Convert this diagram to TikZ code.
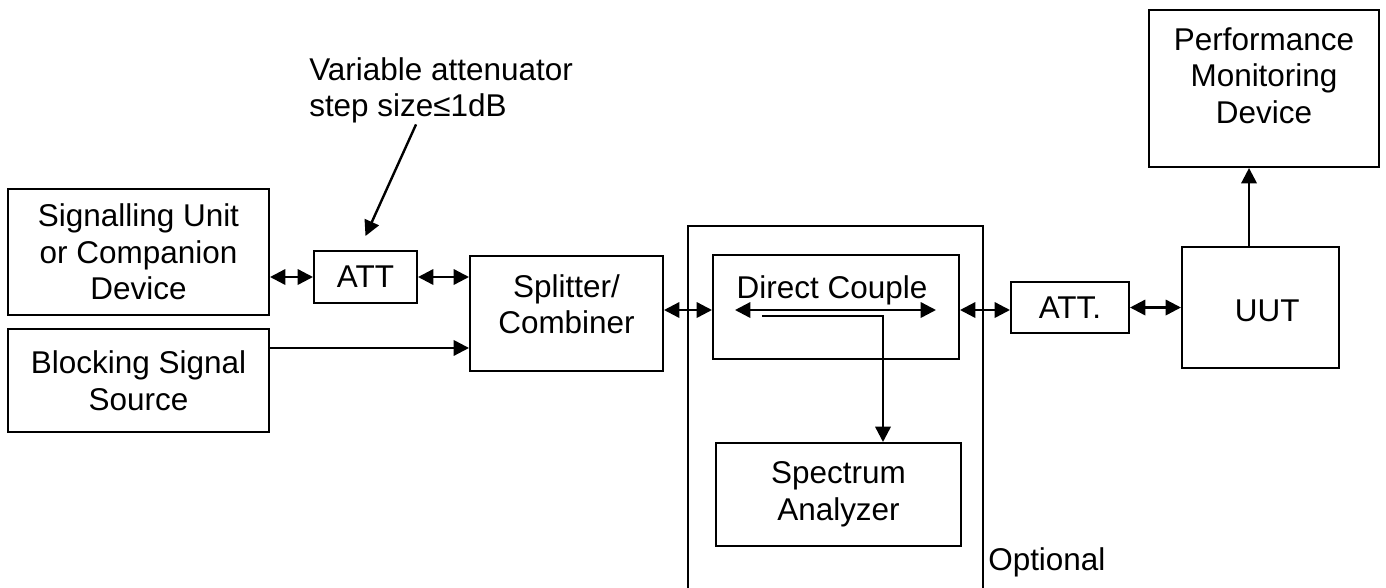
\documentclass[tikz,border=0pt]{standalone}
\usepackage{fontspec}
\setmainfont{Liberation Sans}
\usetikzlibrary{arrows.meta}

\tikzset{
  blk/.style={draw, line width=1.5pt, inner sep=0pt, align=center},
  sz/.style 2 args={minimum width=#1*0.75pt, minimum height=#2*0.75pt},
  con/.style={line width=1.8pt},
}

\begin{document}
\begin{tikzpicture}[x=0.75pt,y=0.75pt,yscale=-1,xscale=1, >={Triangle[length=11.5pt,width=11.5pt]}, font=\fontsize{23.6}{27.4}\selectfont]
    \useasboundingbox (0,0) rectangle (1386,587); %picture is 1386 wide, 587 high
    
    %Shape: Rectangle (sources)
    \node [blk, sz={261}{126}] (sig) at (138.5,252) {Signalling Unit\\or Companion\\Device};
    \node [blk, sz={261}{103}] (bss) at (138.5,380.5) {Blocking Signal\\Source};
    %Shape: Rectangle (attenuators)
    \node [blk, sz={103}{52}] (att) at (365.5,277) {ATT};
    \node [blk, sz={118}{51}] (att2) at (1070,307.5) {ATT.};
    %Shape: Rectangle
    \node [blk, sz={193}{115}, text depth=14pt] (spl) at (566.5,313.5) {Splitter/\\Combiner};
    %Shape: Optional frame, open at the bottom
    \draw [line width=1.5pt] (688,592) -- (688,226) -- (983,226) -- (983,592);
    %Shape: Rectangle (inside the frame)
    \node [blk, sz={246}{104}] (dc) at (836,307) {};
    \node [blk, sz={245}{103}] (spa) at (838.5,494.5) {Spectrum\\Analyzer};
    %Shape: Rectangle (device side)
    \node [blk, sz={157}{121}, text height=21pt] (uut) at (1260.5,307.5) {\hspace{10pt}UUT};
    \node [blk, sz={230}{157}, text depth=20pt] (pmd) at (1264,88.5) {Performance\\Monitoring\\Device};
    
    % Text Node
    \node [anchor=base, inner sep=0.75pt] (dctxt) at (832,298) {Direct Couple};
    % Text Node
    \node [anchor=north west, inner sep=0.75pt, align=left] (note) at (308,56) {Variable attenuator\\step size≤1dB};
    % Text Node
    \node [anchor=north west, inner sep=0.75pt] (opt) at (987,546) {Optional};
    
    %Straight Lines (yshift runs downwards here, as yscale=-1)
    \coordinate (dcl) at (735,310);
    \coordinate (dcr) at (936,310);
    \coordinate (tap) at (762,316);
    \coordinate (tapdn) at (883,316);
    \draw [con, <->] (sig.east |- att) -- (att.west);
    \draw [con, <->] (att.east) -- (att.east -| spl.west);
    \draw [con, ->] ([yshift=-24.4pt]bss.east) -- ([yshift=-24.4pt]bss.east -| spl.west);
    \draw [con, <->] (spl.east |- dcl) -- (dc.west |- dcl);
    \draw [con, <->] (dcl) -- (dcr);
    \draw [con, ->] (tap) -- (tapdn) -- (tapdn |- spa.north);
    \draw [con, <->] (dc.east |- dcl) -- (att2.west |- dcl);
    \draw [con, <->] (att2.east) -- (att2.east -| uut.west);
    \draw [con, ->] ([xshift=-8.6pt]uut.north) -- ([xshift=-8.6pt]uut.north |- pmd.south);
    \draw [con, ->] ([xshift=-18.75pt]note.south) -- ([yshift=-10.5pt]att.north);
    
\end{tikzpicture}
\end{document}
